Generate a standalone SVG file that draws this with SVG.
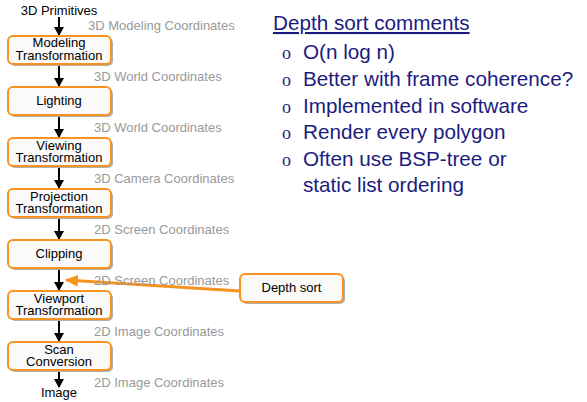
<svg xmlns="http://www.w3.org/2000/svg" width="587" height="402" viewBox="0 0 587 402">
<style>
.box{fill:#fafafa;stroke:#f7931e;stroke-width:2}
.sh{fill:#b0b0b0}
.bt{font-family:"Liberation Sans",Arial,sans-serif;font-size:13px;fill:#000;text-anchor:middle}
.lab{font-family:"Liberation Sans",Arial,sans-serif;font-size:13px;fill:#999}
.ar{stroke:#000;stroke-width:2;fill:none}
.cm{font-family:"Liberation Sans",Arial,sans-serif;font-size:20.7px;fill:#1c1c7e}
.bul{font-family:"Liberation Serif","Times New Roman",serif;font-size:18px;fill:#1c1c7e}
</style>
<defs>
<marker id="ah" markerWidth="10" markerHeight="10" refX="8" refY="5" orient="auto" markerUnits="userSpaceOnUse"><path d="M0,0 L9,5 L0,10 Z" fill="#000"/></marker>
<marker id="oh" markerWidth="14" markerHeight="12" refX="12" refY="6" orient="auto" markerUnits="userSpaceOnUse"><path d="M0,0 L13,6 L0,12 Z" fill="#f7931e"/></marker>
</defs>
<g id="connectors">
<line class="ar" x1="59" y1="17" x2="59" y2="35" marker-end="url(#ah)"/>
<line class="ar" x1="59" y1="65" x2="59" y2="86" marker-end="url(#ah)"/>
<line class="ar" x1="59" y1="116" x2="59" y2="137" marker-end="url(#ah)"/>
<line class="ar" x1="59" y1="167" x2="59" y2="188" marker-end="url(#ah)"/>
<line class="ar" x1="59" y1="218" x2="59" y2="239" marker-end="url(#ah)"/>
<line class="ar" x1="59" y1="269" x2="59" y2="290" marker-end="url(#ah)"/>
<line class="ar" x1="59" y1="320" x2="59" y2="341" marker-end="url(#ah)"/>
<line class="ar" x1="59" y1="371" x2="59" y2="387" marker-end="url(#ah)"/>
<line x1="240" y1="291" x2="66" y2="280" stroke="#f7931e" stroke-width="3" marker-end="url(#oh)"/>
</g>
<g id="labels">
<text class="lab" x="88" y="30">3D Modeling Coordinates</text>
<text class="lab" x="94" y="81">3D World Coordinates</text>
<text class="lab" x="94" y="132">3D World Coordinates</text>
<text class="lab" x="94" y="183">3D Camera Coordinates</text>
<text class="lab" x="94" y="234">2D Screen Coordinates</text>
<text class="lab" x="94" y="285">2D Screen Coordinates</text>
<text class="lab" x="94" y="336">2D Image Coordinates</text>
<text class="lab" x="94" y="387">2D Image Coordinates</text>
</g>
<g id="primitives"><text class="bt" x="59" y="15">3D Primitives</text></g>
<g id="modeling"><rect class="sh" x="10" y="38" width="103" height="28" rx="5"/><rect class="box" x="8" y="36" width="103" height="28" rx="5"/><text class="bt"><tspan x="59" y="47">Modeling</tspan><tspan x="59" y="59.5">Transformation</tspan></text></g>
<g id="lighting"><rect class="sh" x="10" y="89" width="103" height="28" rx="5"/><rect class="box" x="8" y="87" width="103" height="28" rx="5"/><text class="bt" x="59" y="105">Lighting</text></g>
<g id="viewing"><rect class="sh" x="10" y="140" width="103" height="28" rx="5"/><rect class="box" x="8" y="138" width="103" height="28" rx="5"/><text class="bt"><tspan x="59" y="149.5">Viewing</tspan><tspan x="59" y="161.5">Transformation</tspan></text></g>
<g id="projection"><rect class="sh" x="10" y="191" width="103" height="28" rx="5"/><rect class="box" x="8" y="189" width="103" height="28" rx="5"/><text class="bt"><tspan x="59" y="200.5">Projection</tspan><tspan x="59" y="212.5">Transformation</tspan></text></g>
<g id="clipping"><rect class="sh" x="10" y="242" width="103" height="28" rx="5"/><rect class="box" x="8" y="240" width="103" height="28" rx="5"/><text class="bt" x="59" y="258">Clipping</text></g>
<g id="viewport"><rect class="sh" x="10" y="293" width="103" height="28" rx="5"/><rect class="box" x="8" y="291" width="103" height="28" rx="5"/><text class="bt"><tspan x="59" y="302.5">Viewport</tspan><tspan x="59" y="314.5">Transformation</tspan></text></g>
<g id="scan"><rect class="sh" x="10" y="344" width="103" height="28" rx="5"/><rect class="box" x="8" y="342" width="103" height="28" rx="5"/><text class="bt"><tspan x="59" y="353.5">Scan</tspan><tspan x="59" y="365.5">Conversion</tspan></text></g>
<g id="image"><text class="bt" x="59" y="397">Image</text></g>
<g id="depthsort"><rect class="sh" x="242" y="276" width="103" height="28" rx="5"/><rect class="box" x="240" y="274" width="103" height="28" rx="5"/><text class="bt" x="291.5" y="292">Depth sort</text></g>
<g id="comments">
<text class="cm" x="273" y="30" text-decoration="underline">Depth sort comments</text>
<text class="bul" x="282" y="59">o</text><text class="cm" x="303" y="59">O(n log n)</text>
<text class="bul" x="282" y="86">o</text><text class="cm" x="303" y="86">Better with frame coherence?</text>
<text class="bul" x="282" y="113">o</text><text class="cm" x="303" y="113">Implemented in software</text>
<text class="bul" x="282" y="139">o</text><text class="cm" x="303" y="139">Render every polygon</text>
<text class="bul" x="282" y="166">o</text><text class="cm"><tspan x="303" y="166">Often use BSP-tree or</tspan><tspan x="303" y="192">static list ordering</tspan></text>
</g>
</svg>
